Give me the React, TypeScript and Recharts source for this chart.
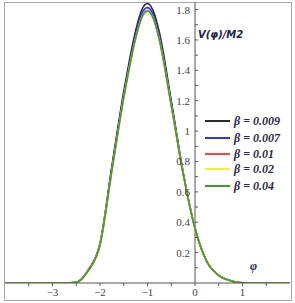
import React from "react";
import {
  LineChart,
  Line,
  XAxis,
  YAxis,
  ReferenceLine,
  ReferenceDot,
} from "recharts";

const PHI = [
  -4, -3.5, -3, -2.75, -2.5, -2.25, -2, -1.75, -1.5, -1.25, -1.125, -1, -0.875,
  -0.75, -0.5, -0.25, 0, 0.25, 0.5, 0.75, 1, 1.5, 2,
];

const B0009 = [
  0, 0, 0, 0, 0.005, 0.085, 0.26, 0.77, 1.26, 1.66, 1.795, 1.84, 1.788, 1.65,
  1.2, 0.73, 0.36, 0.14, 0.05, 0.015, 0.002, 0, 0,
];
const B0007 = [
  0, 0, 0, 0, 0.005, 0.082, 0.255, 0.755, 1.24, 1.635, 1.772, 1.813, 1.765,
  1.625, 1.185, 0.725, 0.36, 0.14, 0.05, 0.015, 0.002, 0, 0,
];
const B001 = [
  0, 0, 0, 0, 0.004, 0.08, 0.25, 0.74, 1.22, 1.612, 1.747, 1.793, 1.742, 1.602,
  1.17, 0.72, 0.36, 0.14, 0.05, 0.015, 0.002, 0, 0,
];
const B002 = [
  0, 0, 0, 0, 0.004, 0.08, 0.25, 0.74, 1.22, 1.611, 1.746, 1.791, 1.741, 1.601,
  1.17, 0.72, 0.36, 0.14, 0.05, 0.015, 0.002, 0, 0,
];
const B004 = [
  0, 0, 0, 0, 0.004, 0.08, 0.25, 0.74, 1.22, 1.61, 1.745, 1.79, 1.74, 1.6,
  1.17, 0.72, 0.36, 0.14, 0.05, 0.015, 0.002, 0, 0,
];

const X_TICKS = [-3.5, -3, -2.5, -2, -1.5, -1, -0.5, 0, 0.5, 1, 1.5];
const Y_TICKS = [
  0.1, 0.2, 0.3, 0.4, 0.5, 0.6, 0.7, 0.8, 0.9, 1, 1.1, 1.2, 1.3, 1.4, 1.5, 1.6,
  1.7, 1.8,
];

const SERIES = [
  { key: "b0009", label: "β = 0.009", color: "#2b2b2b", values: B0009 },
  { key: "b0007", label: "β = 0.007", color: "#2f2fff", values: B0007 },
  { key: "b001", label: "β = 0.01", color: "#ff4040", values: B001 },
  { key: "b002", label: "β = 0.02", color: "#f5f030", values: B002 },
  { key: "b004", label: "β = 0.04", color: "#3f9e2f", values: B004 },
];

const data = PHI.map((x, i) => {
  const row: Record<string, number> = { x };
  SERIES.forEach((s) => (row[s.key] = s.values[i]));
  return row;
});

const serif = "Liberation Serif";

const fmtX = (v: number) =>
  Number.isInteger(v) ? (v < 0 ? `\u2212${Math.abs(v)}` : `${v}`) : "";

const YTick = (props: any) => {
  const { cx, cy, value } = props;
  const major = Math.round(value * 10) % 2 === 0;
  return (
    <g>
      <line x1={cx} x2={cx + 3} y1={cy} y2={cy} stroke="#555" strokeWidth={1} />
      {major && (
        <text
          x={cx - 5}
          y={cy + 4}
          textAnchor="end"
          fontSize={11}
          fontFamily={serif}
          fill="#444"
        >
          {value}
        </text>
      )}
    </g>
  );
};

export default function App() {
  return (
    <div
      style={{
        position: "absolute",
        left: 0,
        top: 0,
        width: 295,
        height: 303,
        background: "#fff",
      }}
    >
      <div
        style={{
          position: "absolute",
          left: 4,
          top: 2,
          width: 286,
          height: 297,
          border: "1px solid #a8a8a8",
        }}
      />
      <LineChart
        width={295}
        height={303}
        data={data}
        margin={{ top: 2, right: 5, bottom: 6, left: 5 }}
        style={{ position: "absolute", left: 0, top: 0 }}
      >
        <XAxis
          dataKey="x"
          type="number"
          domain={[-4, 2]}
          ticks={X_TICKS}
          tickFormatter={fmtX}
          height={14}
          tickSize={3}
          interval={0}
          stroke="#555"
          tick={{ fontSize: 11, fontFamily: serif, fill: "#444" }}
          allowDataOverflow
        />
        <YAxis type="number" domain={[0, 1.85]} hide allowDataOverflow />
        <ReferenceLine x={0} stroke="#555" strokeWidth={1} />
        {Y_TICKS.map((v) => (
          <ReferenceDot
            key={v}
            x={0}
            y={v}
            r={0}
            shape={(p: any) => <YTick {...p} value={v} />}
          />
        ))}
        {SERIES.map((s) => (
          <Line
            key={s.key}
            dataKey={s.key}
            type="monotone"
            stroke={s.color}
            strokeWidth={1.6}
            dot={false}
            isAnimationActive={false}
          />
        ))}
      </LineChart>
      <div
        style={{
          position: "absolute",
          left: 198,
          top: 29,
          fontFamily: "DejaVu Sans",
          fontWeight: "bold",
          fontStyle: "italic",
          fontSize: 10,
          color: "#23234a",
        }}
      >
        V(φ)/M2
      </div>
      <div
        style={{
          position: "absolute",
          left: 250,
          top: 259,
          fontFamily: serif,
          fontWeight: "bold",
          fontStyle: "italic",
          fontSize: 12,
          color: "#23234a",
        }}
      >
        φ
      </div>
      {SERIES.map((s, i) => (
        <div
          key={s.key}
          style={{
            position: "absolute",
            left: 205,
            top: [121, 138, 154, 169, 186][i] - 8,
            height: 16,
            display: "flex",
            alignItems: "center",
            whiteSpace: "nowrap",
          }}
        >
          <div style={{ width: 25, height: 2, background: s.color }} />
          <span
            style={{
              marginLeft: 4,
              fontFamily: serif,
              fontWeight: "bold",
              fontStyle: "italic",
              fontSize: 12,
              color: "#2a2a45",
            }}
          >
            {s.label}
          </span>
        </div>
      ))}
    </div>
  );
}
